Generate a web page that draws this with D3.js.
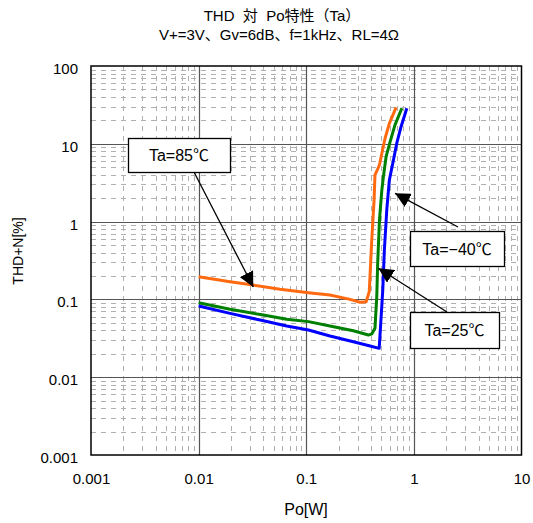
<!DOCTYPE html>
<html>
<head>
<meta charset="utf-8">
<script src="https://cdn.jsdelivr.net/npm/d3@7"></script>
<style>
  body { margin: 0; background: #fff; }
  svg { display: block; font-family: "Liberation Sans", Arial, "Noto Sans CJK JP", sans-serif; }
</style>
</head>
<body>
<svg id="chart" width="533" height="523"></svg>
<script>
// THD+N vs output power at three ambient temperatures
const xTicks = [0.001, 0.01, 0.1, 1, 10];
const yTicks = [0.001, 0.01, 0.1, 1, 10, 100];
const xTickLabels = ["0.001", "0.01", "0.1", "1", "10"];
const yTickLabels = ["0.001", "0.01", "0.1", "1", "10", "100"];

// Ta = 85°C  [Po (W), THD+N (%)]
const ta85 = [
  [0.010, 0.196], [0.0196, 0.169], [0.0322, 0.153], [0.0572, 0.135],
  [0.105, 0.122], [0.166, 0.114], [0.255, 0.100], [0.316, 0.092],
  [0.360, 0.093], [0.385, 0.126], [0.406, 0.58], [0.427, 1.9],
  [0.435, 3.97], [0.479, 5.34], [0.504, 7.55], [0.540, 11.8],
  [0.592, 18.3], [0.684, 29.4]
];
// Ta = 25°C
const ta25 = [
  [0.010, 0.0908], [0.0196, 0.0746], [0.0399, 0.063], [0.0659, 0.0555],
  [0.105, 0.0518], [0.166, 0.0455], [0.274, 0.0396], [0.378, 0.0348],
  [0.406, 0.036], [0.435, 0.0425], [0.452, 0.108], [0.461, 0.291],
  [0.479, 1.05], [0.504, 2.55], [0.521, 3.78], [0.552, 6.83],
  [0.601, 10.6], [0.668, 17.5], [0.773, 28.6]
];
// Ta = -40°C
const taM40 = [
  [0.010, 0.0822], [0.0196, 0.0662], [0.0373, 0.0543], [0.0659, 0.0455],
  [0.105, 0.0404], [0.166, 0.0339], [0.274, 0.0286], [0.392, 0.0252],
  [0.476, 0.0235], [0.492, 0.049], [0.514, 0.132], [0.532, 0.432],
  [0.560, 1.41], [0.592, 3.43], [0.646, 6.19], [0.693, 10.1],
  [0.760, 16.6], [0.860, 28.6]
];

const seriesData = [ta85, ta25, taM40];
const seriesColors = ["#ff6a10", "#008000", "#0000ff"];

// Callout boxes: label, box [x0,y0,x1,y1] in px, arrow start in px, arrow tip in data units
const callouts = [
  { label: "Ta=85℃", box: [128, 138, 230, 172], from: [194, 172], to: [0.0322, 0.1445] },
  { label: "Ta=−40℃", box: [410, 231, 504, 266], from: [458, 227], to: [0.668, 2.31] },
  { label: "Ta=25℃", box: [410, 312, 499, 348], from: [447, 312], to: [0.468, 0.251] }
];

const svg = d3.select("#chart");
const plotL = 91, plotR = 521.5, plotT = 66, plotB = 455;

const x = d3.scaleLog().domain([0.001, 10]).range([plotL, plotR]);
const y = d3.scaleLog().domain([0.001, 100]).range([plotB, plotT]);

// minor grid values (2..9 of each decade)
const minorX = [], minorY = [];
for (let e = -3; e < 1; e++) for (let k = 2; k <= 9; k++) minorX.push(k * Math.pow(10, e));
for (let e = -3; e < 2; e++) for (let k = 2; k <= 9; k++) minorY.push(k * Math.pow(10, e));

const grid = svg.append("g");
grid.selectAll(".mh").data(minorY).join("line")
  .attr("x1", plotL).attr("x2", plotR)
  .attr("y1", d => Math.round(y(d)) + 0.5).attr("y2", d => Math.round(y(d)) + 0.5)
  .attr("stroke", "#b0b0b0").attr("stroke-width", 1)
  .attr("stroke-dasharray", "5,5");
grid.selectAll(".mv").data(minorX).join("line")
  .attr("y1", plotT).attr("y2", plotB)
  .attr("x1", d => Math.round(x(d)) + 0.5).attr("x2", d => Math.round(x(d)) + 0.5)
  .attr("stroke", "#b0b0b0").attr("stroke-width", 1)
  .attr("stroke-dasharray", "5,5");

// major grid
grid.selectAll(".Mh").data(yTicks.slice(1, -1)).join("line")
  .attr("x1", plotL).attr("x2", plotR)
  .attr("y1", d => Math.round(y(d)) + 0.5).attr("y2", d => Math.round(y(d)) + 0.5)
  .attr("stroke", "#555").attr("stroke-width", 1.2);
grid.selectAll(".Mv").data(xTicks.slice(1, -1)).join("line")
  .attr("y1", plotT).attr("y2", plotB)
  .attr("x1", d => Math.round(x(d)) + 0.5).attr("x2", d => Math.round(x(d)) + 0.5)
  .attr("stroke", "#555").attr("stroke-width", 1.2);

// plot frame
svg.append("rect")
  .attr("x", plotL).attr("y", plotT).attr("width", plotR - plotL).attr("height", plotB - plotT)
  .attr("fill", "none").attr("stroke", "#000").attr("stroke-width", 1.5);

// tick labels via d3 axes
const xAxis = d3.axisBottom(x).tickValues(xTicks)
  .tickFormat((d, i) => xTickLabels[i]).tickSize(0).tickPadding(18);
svg.append("g").attr("transform", `translate(0,${plotB})`).call(xAxis)
  .call(g => g.select(".domain").remove())
  .selectAll("text").attr("font-size", 15).attr("fill", "#000")
  .attr("font-family", "Liberation Sans, Arial, sans-serif");

const yAxis = d3.axisLeft(y).tickValues(yTicks)
  .tickFormat((d, i) => yTickLabels[i]).tickSize(0).tickPadding(13);
svg.append("g").attr("transform", `translate(${plotL},0)`).call(yAxis)
  .call(g => g.select(".domain").remove())
  .selectAll("text").attr("font-size", 15).attr("fill", "#000").attr("dy", "0.5em")
  .attr("font-family", "Liberation Sans, Arial, sans-serif");

// series lines
const line = d3.line().x(d => x(d[0])).y(d => y(d[1]));
svg.append("g").selectAll("path").data(seriesData).join("path")
  .attr("d", line)
  .attr("fill", "none")
  .attr("stroke", (d, i) => seriesColors[i])
  .attr("stroke-width", 3)
  .attr("stroke-linejoin", "round");

// callouts with arrows
svg.append("defs").append("marker")
  .attr("id", "arrow").attr("viewBox", "0 0 10 10")
  .attr("refX", 10).attr("refY", 5)
  .attr("markerWidth", 15).attr("markerHeight", 15)
  .attr("markerUnits", "userSpaceOnUse")
  .attr("orient", "auto")
  .append("path").attr("d", "M0,0 L10,5 L0,10 Z").attr("fill", "#000");

const co = svg.append("g");
callouts.forEach(c => {
  co.append("line")
    .attr("x1", c.from[0]).attr("y1", c.from[1])
    .attr("x2", x(c.to[0])).attr("y2", y(c.to[1]))
    .attr("stroke", "#000").attr("stroke-width", 1.3)
    .attr("marker-end", "url(#arrow)");
  const [x0, y0, x1, y1] = c.box;
  co.append("rect").attr("x", x0 + 0.5).attr("y", y0 + 0.5)
    .attr("width", x1 - x0).attr("height", y1 - y0)
    .attr("fill", "#fff").attr("stroke", "#000").attr("stroke-width", 1.3);
  co.append("text").attr("x", (x0 + x1) / 2).attr("y", (y0 + y1) / 2 + 6)
    .attr("text-anchor", "middle").attr("font-size", 16).attr("fill", "#000")
    .text(c.label);
});

// titles
svg.append("text").attr("x", 282).attr("y", 21).attr("text-anchor", "middle")
  .attr("font-size", 15).attr("fill", "#000").attr("xml:space", "preserve")
  .text("THD  対  Po特性（Ta）");
svg.append("text").attr("x", 279).attr("y", 40).attr("text-anchor", "middle")
  .attr("font-size", 15).attr("fill", "#000")
  .text("V+=3V、Gv=6dB、f=1kHz、RL=4Ω");

// axis titles
svg.append("text").attr("x", 306).attr("y", 515).attr("text-anchor", "middle")
  .attr("font-size", 16).attr("fill", "#000").text("Po[W]");
svg.append("text").attr("transform", "translate(23,251) rotate(-90)")
  .attr("text-anchor", "middle").attr("font-size", 14).attr("fill", "#000")
  .text("THD+N[%]");
</script>
</body>
</html>
